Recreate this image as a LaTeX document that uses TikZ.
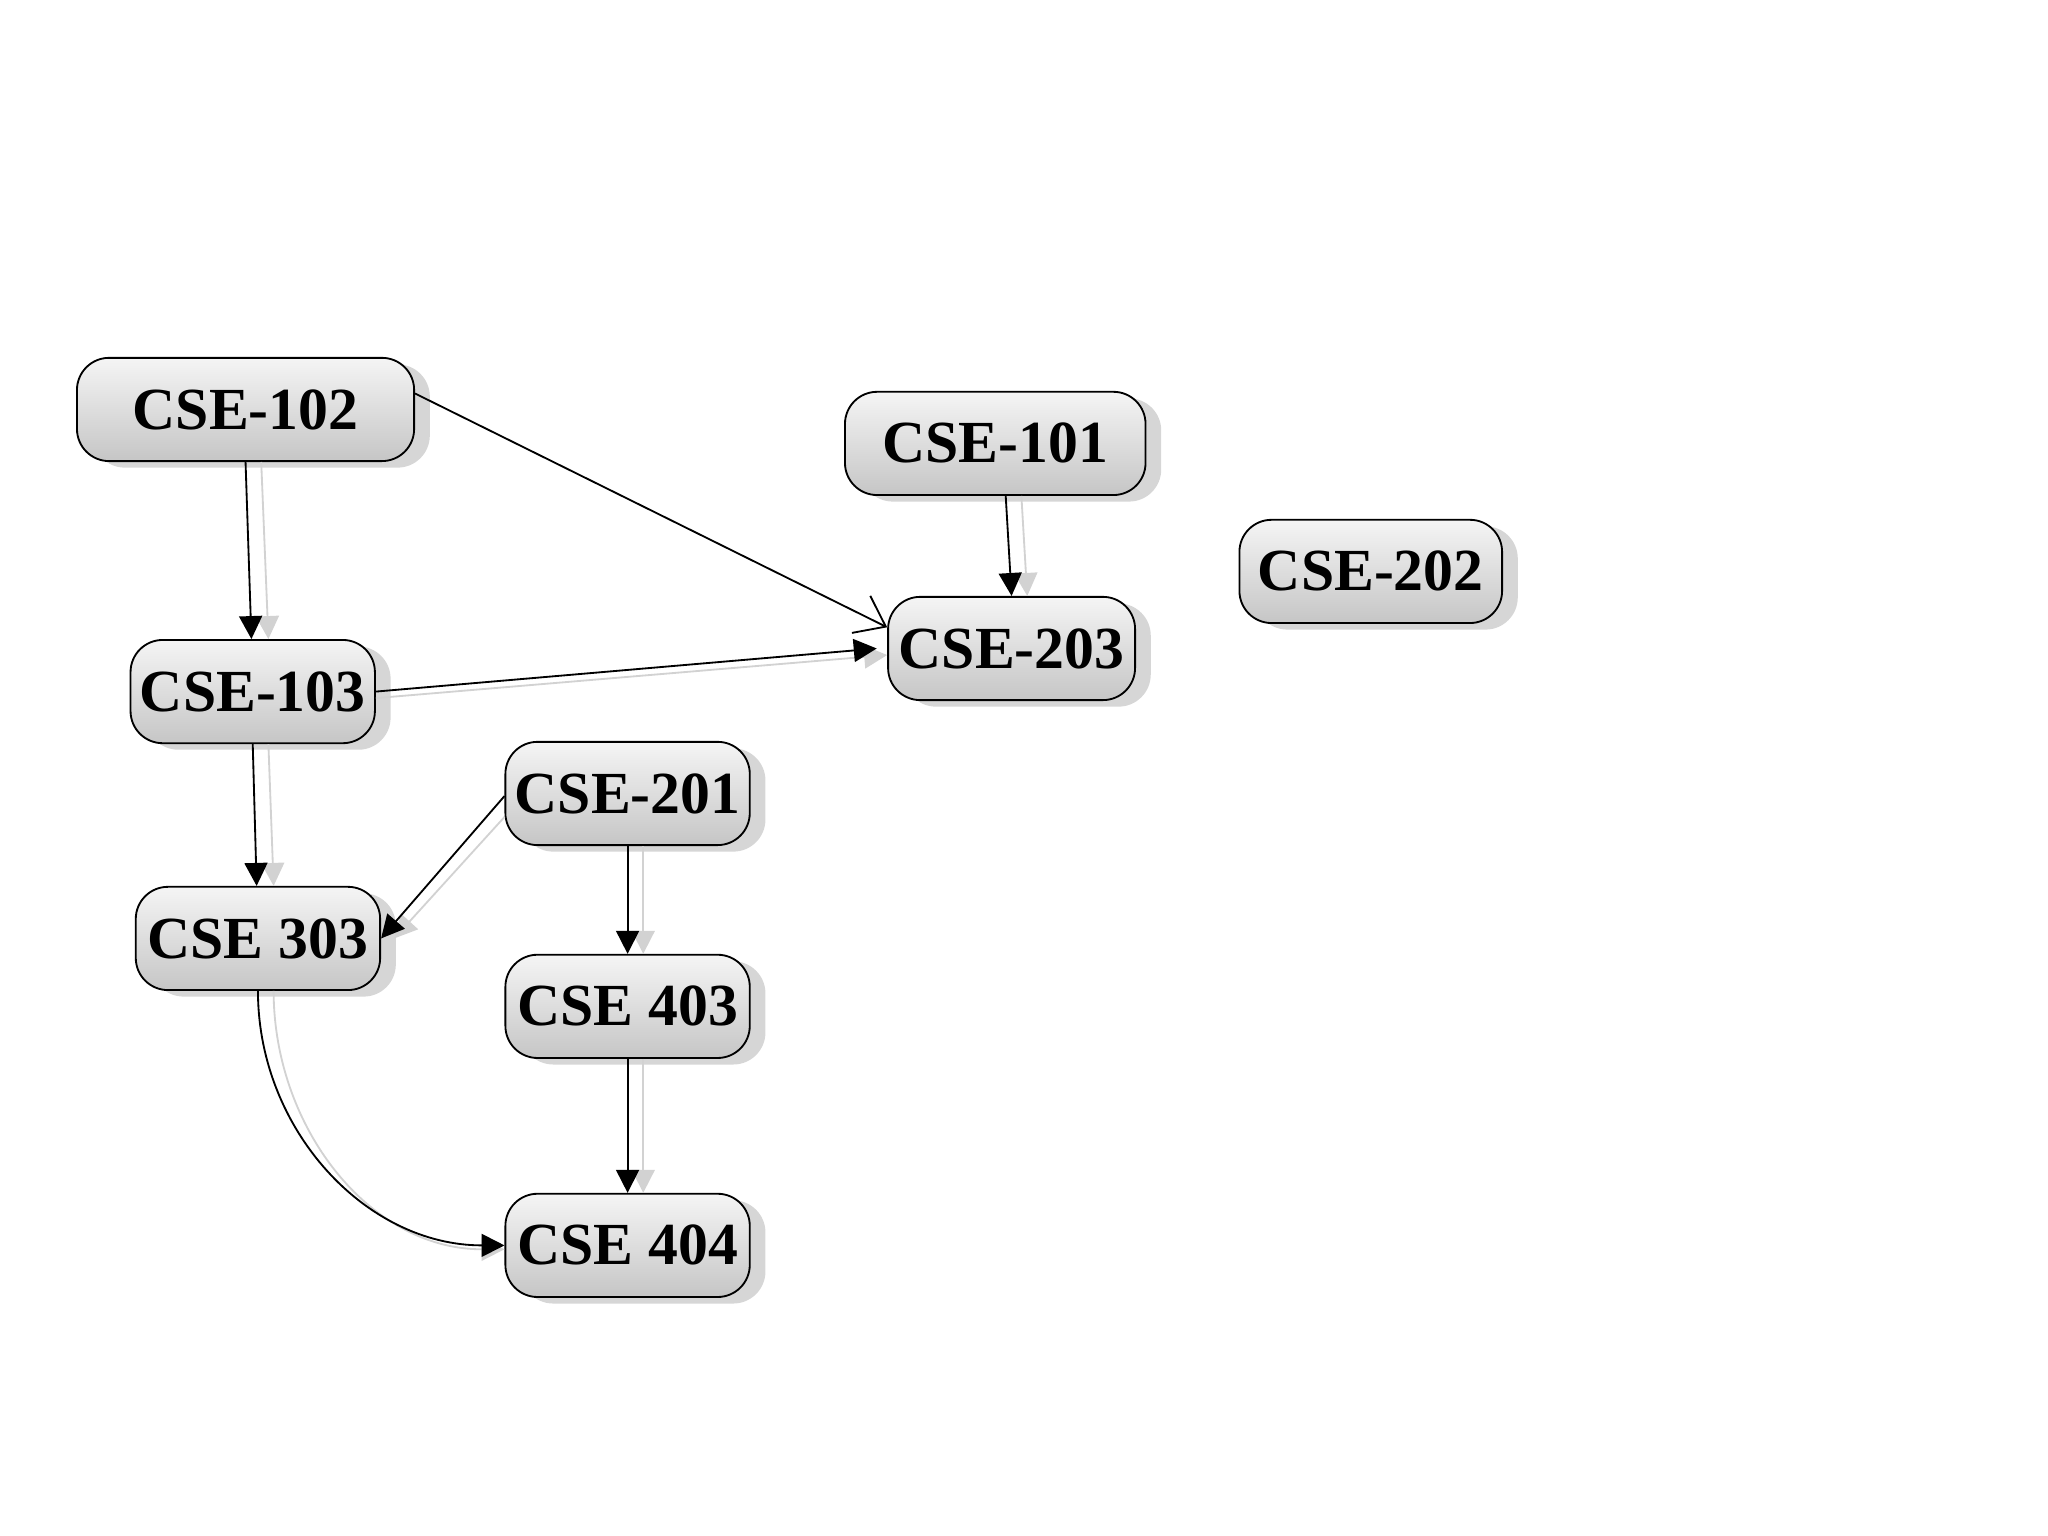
\documentclass[tikz,border=0pt]{standalone}
\usepackage{fontspec}
\setmainfont{Liberation Serif}
\usetikzlibrary{shadows,arrows.meta,calc}
\begin{document}
\begin{tikzpicture}[x=0.01cm,y=-0.01cm,
 box/.style={draw=black,rounded corners=7pt,minimum height=0.79cm,top color=gray!8,bottom color=gray!45,
  font=\bfseries\fontsize{13}{13}\selectfont,drop shadow={shadow xshift=0.12cm,shadow yshift=-0.05cm,fill=gray!40,opacity=0.8},inner sep=0pt},
 edge/.style={-{Triangle[length=5pt,width=5pt]},black,thin},
 shade/.style={-{Triangle[length=5pt,width=5pt]},gray!35,thin}]
\useasboundingbox (0,0) rectangle (1568,1176);
\node[box,minimum width=2.58cm] (c102) at (188,313.5) {CSE-102};
\node[box,minimum width=2.30cm] (c101) at (762,339.5) {CSE-101};
\node[box,minimum width=2.01cm] (c202) at (1049.5,437.5) {CSE-202};
\node[box,minimum width=1.89cm] (c203) at (774.5,496.5) {CSE-203};
\node[box,minimum width=1.87cm] (c103) at (193.5,529.5) {CSE-103};
\node[box,minimum width=1.87cm] (c201) at (480.5,607.5) {CSE-201};
\node[box,minimum width=1.87cm] (c303) at (197.5,718.5) {CSE 303};
\node[box,minimum width=1.87cm] (c403) at (480.5,770.5) {CSE 403};
\node[box,minimum width=1.87cm] (c404) at (480.5,953.5) {CSE 404};
% shadows of edges
\begin{scope}[shade]
\draw ($(c102.south)+(12,0)$) -- ($(c103.north)+(12,0)$);
\draw ($(c103.east)+(0,5)$) -- ($(c203.west)+(0,5)$);
\draw ($(c101.south)+(20,0)$) -- ($(c203.north)+(12,0)$);
\draw ($(c103.south)+(12,0)$) -- ($(c303.north)+(12,0)$);
\draw ($(c201.west)+(0,18)$) -- ($(c303.east)+(10,0)$);
\draw ($(c201.south)+(12,0)$) -- ($(c403.north)+(12,0)$);
\draw ($(c403.south)+(12,0)$) -- ($(c404.north)+(12,0)$);
\draw ($(c303.south)+(12,0)$) to[out=-90,in=180] ($(c404.west)+(0,3)$);
\end{scope}
\draw[edge] (c102.south) -- ($(c103.north)+(-1,0)$);
\draw[-{Straight Barb[length=6pt,width=9pt]},thin] ($(c102.north east)+(0,28)$) -- ($(c203.north west)+(0,24)$);
\draw[edge] (c103.east) -- ($(c203.west)+(-8,0)$);
\draw[edge] ($(c101.south)+(8,0)$) -- (c203.north);
\draw[edge] (c103.south) -- ($(c303.north)+(-1,0)$);
\draw[edge] ($(c201.west)+(0,2)$) -- (c303.east);
\draw[edge] (c201.south) -- (c403.north);
\draw[edge] (c403.south) -- (c404.north);
\draw[edge] (c303.south) to[out=-90,in=180] (c404.west);
\end{tikzpicture}
\end{document}
